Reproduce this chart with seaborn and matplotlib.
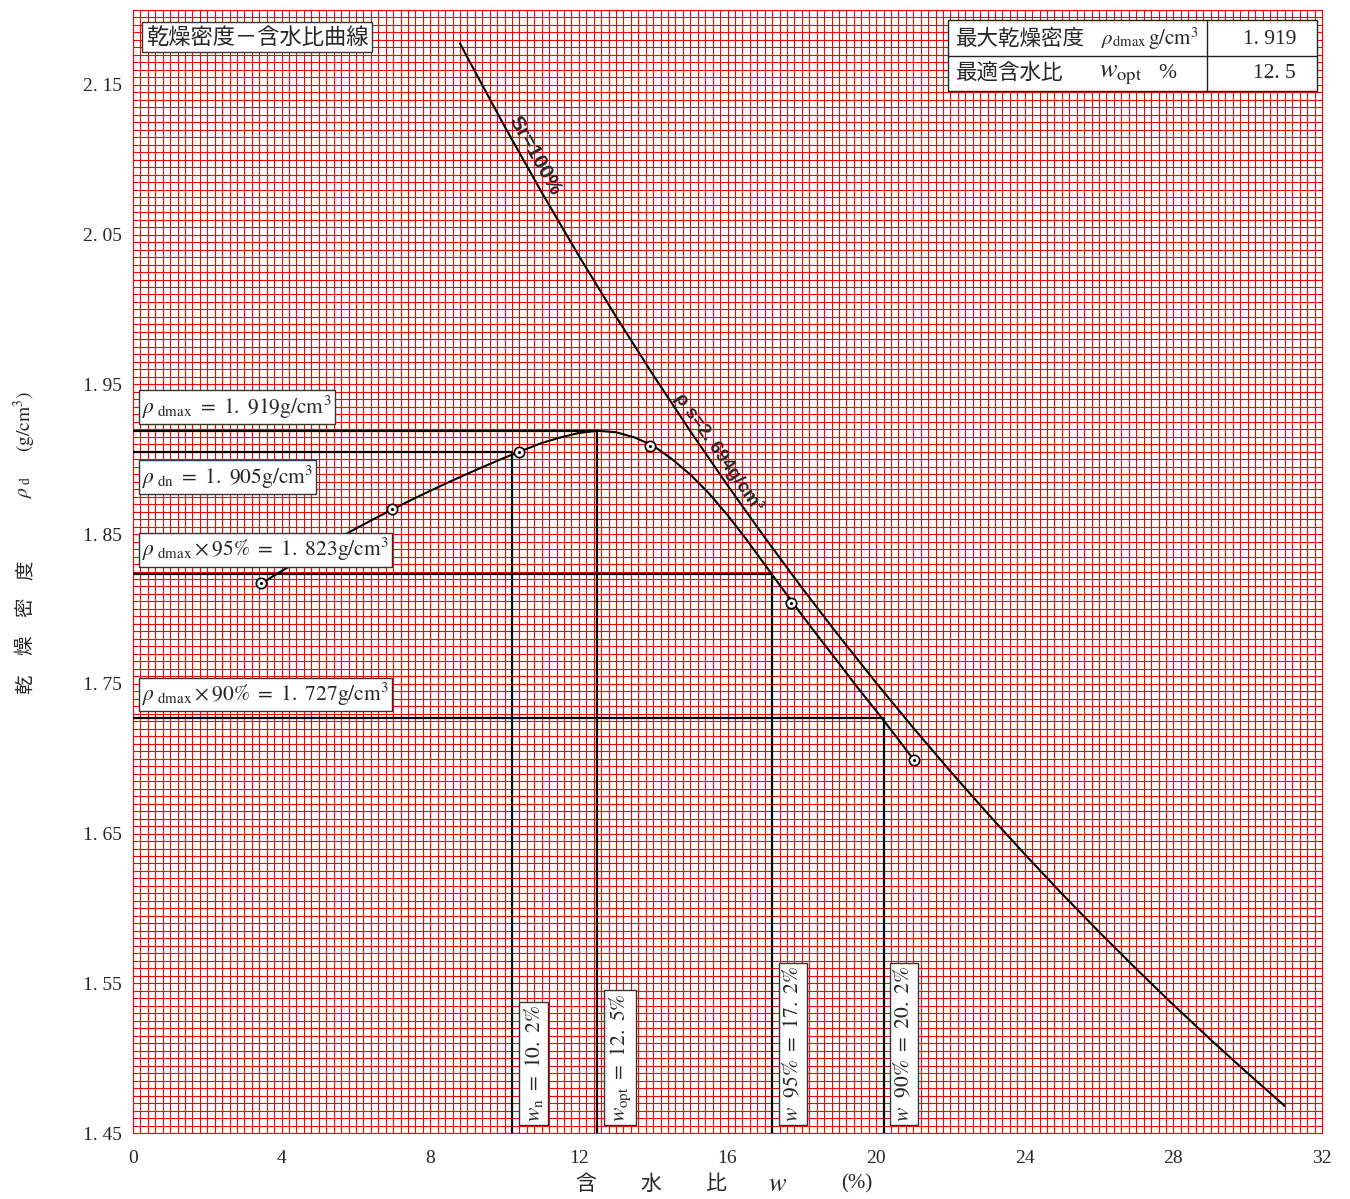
import numpy as np
import matplotlib
matplotlib.use('Agg')
import matplotlib.pyplot as plt
import seaborn as sns
from matplotlib.patches import Rectangle
from matplotlib.lines import Line2D

# --- データ ---
# 試験結果（含水比 %, 乾燥密度 g/cm3）
w_points = [3.45, 6.97, 10.39, 13.92, 17.71, 21.02]
rho_points = [1.817, 1.867, 1.905, 1.909, 1.804, 1.699]

# 締固め曲線
w_curve = [3.45, 4.0, 4.5, 5.0, 5.5, 6.0, 6.5, 7.0, 7.5, 8.0, 8.5, 9.0, 9.5, 10.0,
           10.5, 11.0, 11.5, 12.0, 12.5, 13.0, 13.5, 14.0, 14.5, 15.0, 15.5, 16.0,
           16.5, 17.0, 17.5, 18.0, 18.5, 19.0, 19.5, 20.0, 20.5, 21.02]
rho_curve = [1.817, 1.8253, 1.8327, 1.8399, 1.8469, 1.8537, 1.8603, 1.8667, 1.8729,
             1.8789, 1.8847, 1.8903, 1.8957, 1.9010, 1.9060, 1.9108, 1.9145, 1.9175,
             1.9190, 1.9180, 1.9145, 1.9090, 1.9002, 1.8897, 1.8772, 1.8627, 1.8467,
             1.8297, 1.8128, 1.7960, 1.7797, 1.7637, 1.7475, 1.7320, 1.7160, 1.699]

# ゼロ空気間隙曲線 Sr=100%
w_zav = [8.8, 9, 10, 11, 12, 13, 14, 15, 16, 17, 18, 19, 20, 21, 22, 23, 24, 25,
         26, 27, 28, 29, 30, 31]
rho_zav = [2.1777, 2.1683, 2.1223, 2.0782, 2.0358, 1.9952, 1.9562, 1.9187, 1.8826,
           1.8478, 1.8142, 1.7819, 1.7507, 1.7206, 1.6915, 1.6634, 1.6362, 1.6098,
           1.5843, 1.5596, 1.5356, 1.5124, 1.4899, 1.4680]

rho_dmax, w_opt = 1.919, 12.5
rho_dn, w_n = 1.905, 10.2
rho_95, w_95 = 1.823, 17.2
rho_90, w_90 = 1.727, 20.2

x_ticks = [0, 4, 8, 12, 16, 20, 24, 28, 32]
y_ticks = [1.45, 1.55, 1.65, 1.75, 1.85, 1.95, 2.05, 2.15]
y_tick_labels = ['1. 45', '1. 55', '1. 65', '1. 75', '1. 85', '1. 95', '2. 05', '2. 15']

# --- 書式 ---
sns.set_style('white')
plt.rcParams['font.family'] = ['Liberation Serif', 'Noto Sans CJK JP', 'DejaVu Sans']
plt.rcParams['mathtext.fontset'] = 'stix'
JP = ['Noto Sans CJK JP', 'DejaVu Sans']
SANS = ['Liberation Sans', 'DejaVu Sans']
W, H = 1350, 1199

fig = plt.figure(figsize=(W / 100, H / 100), dpi=100)
ax = fig.add_axes([133 / W, (H - 1133) / H, 1189 / W, 1123 / H])

def fx(x):
    return x / W

def fy(y):
    return 1 - y / H

# 方眼
ax.set_xlim(0, 32)
ax.set_ylim(1.45, 2.20)
ax.set_xticks(x_ticks)
ax.set_xticklabels([str(t) for t in x_ticks])
ax.set_yticks(y_ticks)
ax.set_yticklabels(y_tick_labels)
ax.set_xticks(np.arange(0, 32.01, 0.2), minor=True)
ax.set_yticks(np.arange(1.45, 2.2001, 0.005), minor=True)
ax.grid(which='both', color='#ff0000', linewidth=0.8)
ax.set_axisbelow(True)
ax.tick_params(which='both', length=0)
ax.tick_params(axis='x', pad=12, labelsize=14)
ax.tick_params(axis='y', pad=8, labelsize=14)
for s in ax.spines.values():
    s.set_color('#ff0000')
    s.set_linewidth(0.8)

# 曲線
sns.lineplot(x=w_zav, y=rho_zav, sort=False, estimator=None, color='black', linewidth=1.5, ax=ax, zorder=3)
sns.lineplot(x=w_curve, y=rho_curve, sort=False, estimator=None, color='black', linewidth=1.5, ax=ax, zorder=3)

# 補助線
lw = 1.6
for rho, w in [(rho_dmax, w_opt), (rho_dn, w_n), (rho_95, w_95), (rho_90, w_90)]:
    ax.add_line(Line2D([0, w], [rho, rho], color='black', linewidth=lw, zorder=3))
    ax.add_line(Line2D([w, w], [1.45, rho], color='black', linewidth=lw, zorder=3))

# 測定点
sns.scatterplot(x=w_points, y=rho_points, s=55, marker='o', facecolor='white',
                edgecolor='black', linewidth=1.2, ax=ax, zorder=5)
sns.scatterplot(x=w_points, y=rho_points, s=5, marker='o', color='black',
                edgecolor='black', linewidth=0, ax=ax, zorder=6)

box = dict(boxstyle='square,pad=0.15', facecolor='white', edgecolor='#333333', linewidth=1)

# 横向きラベル
ax.annotate(r'$\rho_{\ \mathrm{dmax}}\ =\ 1.\ 919\mathrm{g/cm}^{3}$', xy=(0, rho_dmax),
            xytext=(9, 10), textcoords='offset pixels', ha='left', va='bottom',
            fontsize=15.5, bbox=box, zorder=7)
ax.annotate(r'$\rho_{\ \mathrm{dn}}\ =\ 1.\ 905\mathrm{g/cm}^{3}$', xy=(0, rho_dn),
            xytext=(9, -12), textcoords='offset pixels', ha='left', va='top',
            fontsize=15.5, bbox=box, zorder=7)
ax.annotate(r'$\rho_{\ \mathrm{dmax}}\times 95\%\ =\ 1.\ 823\mathrm{g/cm}^{3}$', xy=(0, rho_95),
            xytext=(9, 11), textcoords='offset pixels', ha='left', va='bottom',
            fontsize=15.5, bbox=box, zorder=7)
ax.annotate(r'$\rho_{\ \mathrm{dmax}}\times 90\%\ =\ 1.\ 727\mathrm{g/cm}^{3}$', xy=(0, rho_90),
            xytext=(9, 10), textcoords='offset pixels', ha='left', va='bottom',
            fontsize=15.5, bbox=box, zorder=7)

# 縦向きラベル
for w, txt in [(w_n, r'$w_{\mathrm{n}}\ =\ 10.\ 2\%$'),
               (w_opt, r'$w_{\mathrm{opt}}\ =\ 12.\ 5\%$'),
               (w_95, r'$w\ \ 95\%\ =\ 17.\ 2\%$'),
               (w_90, r'$w\ \ 90\%\ =\ 20.\ 2\%$')]:
    ax.annotate(txt, xy=(w, 1.45), xytext=(10, 11), textcoords='offset pixels',
                ha='left', va='bottom', rotation=90, fontsize=15.5, bbox=box, zorder=7)

# Sr=100% と ρs（線の上側に沿わせる）
ax.annotate('Sr=100%', xy=(10.53, 2.0987), xytext=(2, 1), textcoords='offset pixels',
            rotation=-60.5, rotation_mode='anchor', ha='center', va='bottom',
            fontsize=15, fontweight='bold', family=SANS, zorder=6)
ax.annotate('ρ s=2. 694g/cm³', xy=(15.5, 1.9004), xytext=(2, 1), textcoords='offset pixels',
            rotation=-55, rotation_mode='anchor', ha='center', va='bottom',
            fontsize=13.5, fontweight='bold', family=SANS, zorder=6)

# タイトル
fig.text(fx(257), fy(37), '乾燥密度－含水比曲線', ha='center', va='center', fontsize=16,
         family=JP, bbox=dict(boxstyle='square,pad=0.15', facecolor='white', edgecolor='#333333', linewidth=1),
         zorder=8)

# 右上の表
fig.add_artist(Rectangle((fx(948), fy(91)), fx(1317) - fx(948), fy(20) - fy(91),
                         facecolor='white', edgecolor='#222222', linewidth=1, transform=fig.transFigure, zorder=8))
fig.add_artist(Line2D([fx(1207), fx(1207)], [fy(20), fy(91)], color='#222222', linewidth=1,
                      transform=fig.transFigure, zorder=9))
fig.add_artist(Line2D([fx(948), fx(1317)], [fy(56), fy(56)], color='#222222', linewidth=1,
                      transform=fig.transFigure, zorder=9))
fig.text(fx(956), fy(39), '最大乾燥密度', ha='left', va='center', fontsize=15.5, family=JP, zorder=10)
fig.text(fx(1101), fy(41), r'$\rho_{\mathrm{dmax}}$', ha='left', va='center', fontsize=15, zorder=10)
fig.text(fx(1148), fy(39), r'$\mathrm{g/cm}^{3}$', ha='left', va='center', fontsize=15, zorder=10)
fig.text(fx(1296), fy(40), '1. 919', ha='right', va='center', fontsize=15.5, zorder=10)
fig.text(fx(956), fy(73), '最適含水比', ha='left', va='center', fontsize=15.5, family=JP, zorder=10)
fig.text(fx(1099), fy(75), r'$w_{\mathrm{opt}}$', ha='left', va='center', fontsize=19, zorder=10)
fig.text(fx(1158), fy(73), '%', ha='left', va='center', fontsize=15.5, zorder=10)
fig.text(fx(1296), fy(74), '12. 5', ha='right', va='center', fontsize=15.5, zorder=10)

# 軸ラベル（x）
for xp, txt in [(586, '含'), (651, '水'), (716, '比')]:
    fig.text(fx(xp), fy(1184), txt, ha='center', va='center', fontsize=15, family=JP)
fig.text(fx(778), fy(1185), r'$w$', ha='center', va='center', fontsize=19)
fig.text(fx(857), fy(1184), '(%)', ha='center', va='center', fontsize=15)

# 軸ラベル（y）
for yp, txt in [(684, '乾'), (645, '燥'), (607, '密'), (570, '度')]:
    fig.text(fx(25), fy(yp), txt, ha='center', va='center', rotation=90, fontsize=14, family=JP)
fig.text(fx(25), fy(487), r'$\rho_{\ \mathrm{d}}$', ha='center', va='center', rotation=90, fontsize=14)
fig.text(fx(25), fy(421), r'$(\mathrm{g/cm}^{3})$', ha='center', va='center', rotation=90, fontsize=14)

fig.savefig('out.png', dpi=100)
